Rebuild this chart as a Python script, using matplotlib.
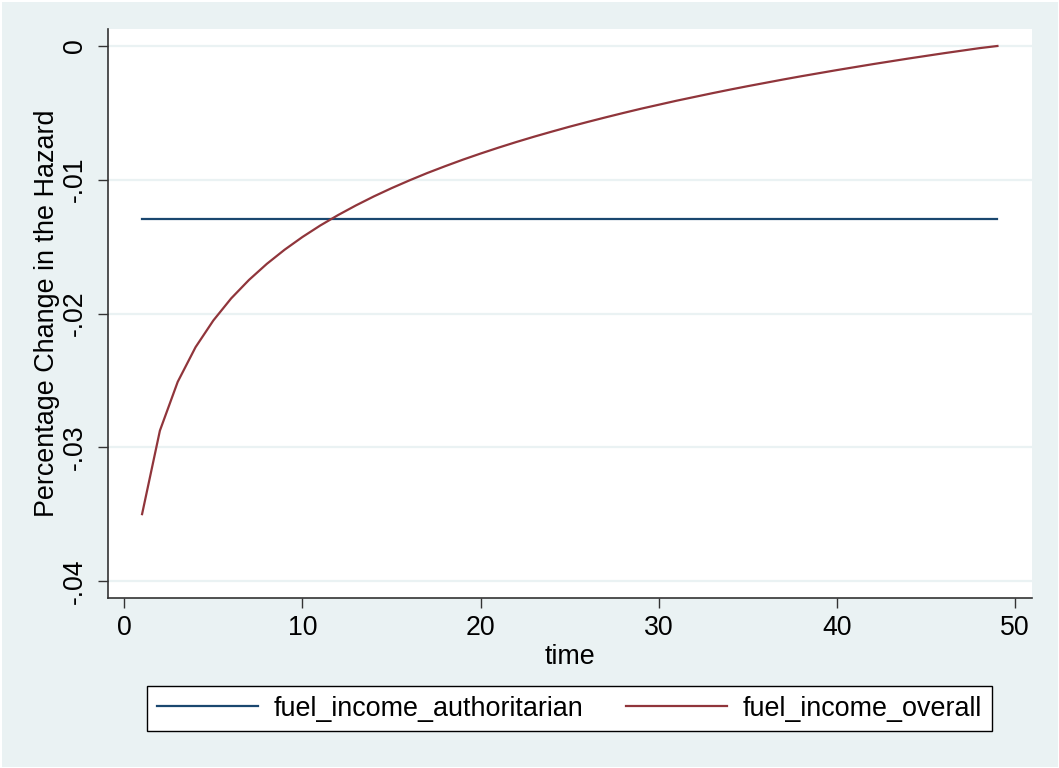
import matplotlib
matplotlib.use("Agg")
import matplotlib.pyplot as plt

# ---- data ----
time = list(range(1, 50))
fuel_income_overall = [
    -0.03500, -0.02876, -0.02511, -0.02252, -0.02052, -0.01887, -0.01749, -0.01629,
    -0.01523, -0.01428, -0.01342, -0.01264, -0.01192, -0.01125, -0.01063, -0.01005,
    -0.00950, -0.00899, -0.00850, -0.00804, -0.00760, -0.00718, -0.00678, -0.00640,
    -0.00603, -0.00568, -0.00534, -0.00501, -0.00469, -0.00439, -0.00409, -0.00381,
    -0.00353, -0.00326, -0.00300, -0.00275, -0.00250, -0.00226, -0.00203, -0.00180,
    -0.00158, -0.00136, -0.00115, -0.00094, -0.00074, -0.00054, -0.00035, -0.00016,
    0.00000,
]
fuel_income_authoritarian = [-0.01296] * len(time)

series_names = ["fuel_income_authoritarian", "fuel_income_overall"]
ytick_values = [0, -0.01, -0.02, -0.03, -0.04]
ytick_labels = ["0", "-.01", "-.02", "-.03", "-.04"]
xtick_values = [0, 10, 20, 30, 40, 50]
xtick_labels = ["0", "10", "20", "30", "40", "50"]
xlabel = "time"
ylabel = "Percentage Change in the Hazard"

# ---- style ----
BG = "#EAF2F3"
BLUE = "#1a476f"
RED = "#90353b"
AXC = "#333333"
W, H = 1059, 768
plt.rcParams["font.family"] = ["Liberation Sans", "DejaVu Sans"]

fig = plt.figure(figsize=(W / 100, H / 100), dpi=100, facecolor=BG)
fig.patch.set_edgecolor("white")
fig.patch.set_linewidth(2)

left, right, top, bottom = 107.5, 1032, 29, 598
ax = fig.add_axes([left / W, 1 - bottom / H, (right - left) / W, (bottom - top) / H])
ax.set_facecolor("white")

for yv in ytick_values:
    ax.axhline(yv, color=BG, lw=1.6, zorder=1)

ax.plot(time, fuel_income_authoritarian, color=BLUE, lw=1.6, label=series_names[0], zorder=3)
ax.plot(time, fuel_income_overall, color=RED, lw=1.6, label=series_names[1], zorder=3)

ax.set_xlim(-0.94, 50.94)
ax.set_ylim(-0.04127, 0.00127)

for s in ["top", "right"]:
    ax.spines[s].set_visible(False)
for s in ["left", "bottom"]:
    ax.spines[s].set_color(AXC)
    ax.spines[s].set_linewidth(1.2)

ax.set_xticks(xtick_values)
ax.set_xticklabels(xtick_labels)
ax.set_yticks(ytick_values)
ax.set_yticklabels(ytick_labels)
ax.tick_params(axis="both", direction="out", length=7.5, width=1.0, color=AXC,
               labelsize=19.2, labelcolor="black")
ax.tick_params(axis="x", pad=5)
ax.tick_params(axis="y", pad=6.5, labelrotation=90)
for lab in ax.get_yticklabels():
    lab.set_verticalalignment("center")

ax.set_xlabel(xlabel, fontsize=19.4)
ax.set_ylabel(ylabel, fontsize=19.4)
ax.xaxis.set_label_coords(0.5, -(644 - bottom) / (bottom - top))
ax.yaxis.set_label_coords((60 - left) / (right - left), 0.5)

handles, labels = ax.get_legend_handles_labels()
cx = (145.7 + 993) / 2 / W
cy = 1 - (684 + 733) / 2 / H
leg = fig.legend(handles, labels, loc="center", bbox_to_anchor=(cx, cy), ncol=2,
                 fontsize=19.4, handlelength=3.75, handletextpad=0.58,
                 columnspacing=1.6, borderpad=0.35, fancybox=False,
                 framealpha=1, facecolor="white", edgecolor="black")
leg.get_frame().set_linewidth(1.0)

fig.savefig("out.png", dpi=100, facecolor=BG)
